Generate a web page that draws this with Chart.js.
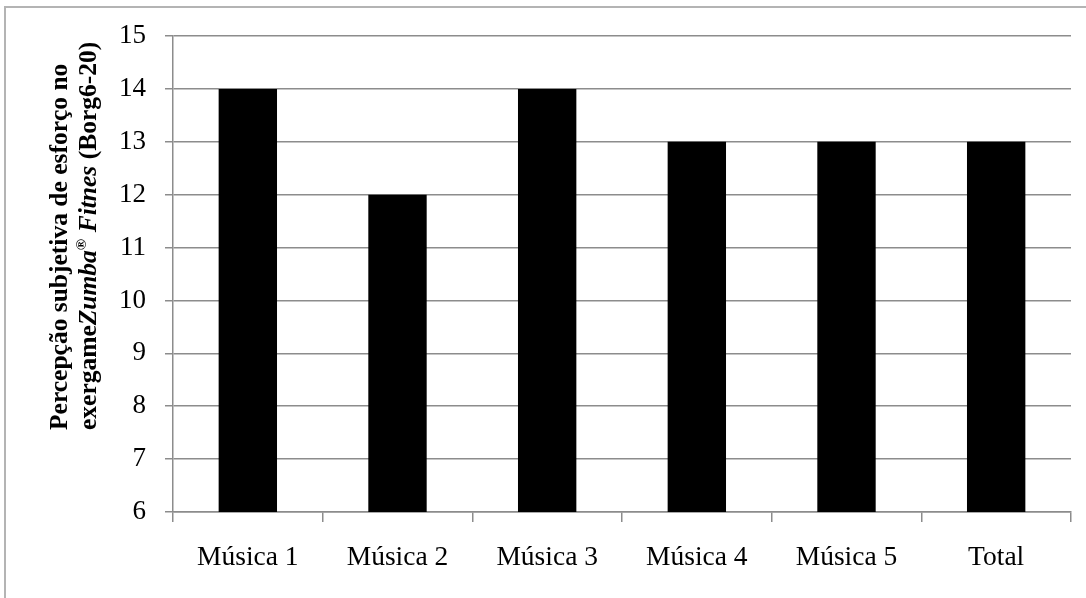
<!DOCTYPE html>
<html>
<head>
<meta charset="utf-8">
<script src="https://cdn.jsdelivr.net/npm/chart.js@4/dist/chart.umd.min.js"></script>
<style>
  html, body { margin: 0; padding: 0; background: #fff; }
  #wrap { position: relative; width: 1086px; height: 598px; }
</style>
</head>
<body>
<div id="wrap"><canvas id="c" width="1086" height="598"></canvas></div>
<script>
const categories = ["Música 1", "Música 2", "Música 3", "Música 4", "Música 5", "Total"];
const borgValues = [14, 12, 14, 13, 13, 13];
const yMin = 6;
const yMax = 15;
const titleLine1 = [{ t: "Percepção subjetiva de esforço no", s: "bold" }];
const titleLine2 = [
  { t: "exergame", s: "bold" },
  { t: "Zumba", s: "italic bold" },
  { t: "®", s: "bold", sup: true },
  { t: " ", s: "bold" },
  { t: "Fitnes", s: "italic bold" },
  { t: " (Borg6-20)", s: "bold" }
];

const FONT = "'Liberation Serif', 'Times New Roman', serif";
const GRID = '#8c8c8c';

const framePlugin = {
  id: 'frame',
  beforeDraw(chart) {
    const ctx = chart.ctx;
    ctx.save();
    ctx.fillStyle = '#fff';
    ctx.fillRect(0, 0, chart.width, chart.height);
    ctx.strokeStyle = '#b4b4b4';
    ctx.lineWidth = 2;
    ctx.beginPath();
    ctx.moveTo(5, 600);
    ctx.lineTo(5, 7);
    ctx.lineTo(1090, 7);
    ctx.stroke();
    ctx.restore();
  },
  afterDraw(chart) {
    const ctx = chart.ctx;
    const size = 25.5;
    function drawLine(parts, baseX, startY) {
      ctx.save();
      ctx.translate(baseX, startY);
      ctx.rotate(-Math.PI / 2);
      ctx.fillStyle = '#000';
      ctx.textBaseline = 'alphabetic';
      ctx.textAlign = 'left';
      let x = 0;
      for (const p of parts) {
        const fs = p.sup ? size * 0.6 : size;
        ctx.font = p.s + ' ' + fs + 'px ' + FONT;
        ctx.fillText(p.t, x, p.sup ? -size * 0.4 : 0);
        x += ctx.measureText(p.t).width;
      }
      ctx.restore();
    }
    drawLine(titleLine1, 67, 430);
    drawLine(titleLine2, 96, 430);
  }
};

new Chart(document.getElementById('c'), {
  type: 'bar',
  data: {
    labels: categories,
    datasets: [{
      data: borgValues,
      backgroundColor: '#000',
      borderWidth: 0,
      categoryPercentage: 1,
      barPercentage: 0.39
    }]
  },
  options: {
    responsive: false,
    animation: false,
    devicePixelRatio: 1,
    layout: { padding: { left: 0, top: 36, right: 15, bottom: 0 } },
    plugins: { legend: { display: false }, tooltip: { enabled: false }, title: { display: false } },
    scales: {
      x: {
        afterFit(s) { s.height = 86; },
        grid: { display: true, drawOnChartArea: false, drawTicks: true, tickLength: 10, color: GRID, lineWidth: 1.5, offset: true },
        border: { display: true, color: GRID, width: 1.5 },
        ticks: { color: '#000', padding: 19, font: { family: FONT, size: 27.5 } }
      },
      y: {
        min: yMin,
        max: yMax,
        afterFit(s) { s.width = 173; },
        grid: { display: true, drawOnChartArea: true, drawTicks: true, tickLength: 8, color: GRID, lineWidth: 1.5 },
        border: { display: true, color: GRID, width: 1.5 },
        ticks: { stepSize: 1, color: '#000', padding: 19, font: { family: FONT, size: 27 } }
      }
    }
  },
  plugins: [framePlugin]
});
</script>
</body>
</html>
